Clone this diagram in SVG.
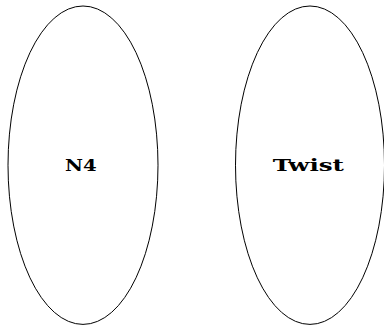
<svg xmlns="http://www.w3.org/2000/svg" width="384" height="326" viewBox="0 0 384 326">
<style>
.node ellipse{fill:none;stroke:#000;stroke-width:1}
.node text{font-family:"DejaVu Serif","Liberation Serif",serif;font-weight:bold;font-size:15.8px;fill:#000}
</style>
<rect width="384" height="326" fill="#fff"/>
<g id="connectors"></g>
<g id="n4" class="node">
<ellipse cx="83" cy="165.2" rx="75" ry="159.2"/>
<text x="65" y="171" textLength="31.7" lengthAdjust="spacingAndGlyphs">N4</text>
</g>
<g id="twist" class="node">
<ellipse cx="310" cy="165.2" rx="74.5" ry="159.2"/>
<text x="272.7" y="171" textLength="71.3" lengthAdjust="spacingAndGlyphs">Twist</text>
</g>
</svg>
